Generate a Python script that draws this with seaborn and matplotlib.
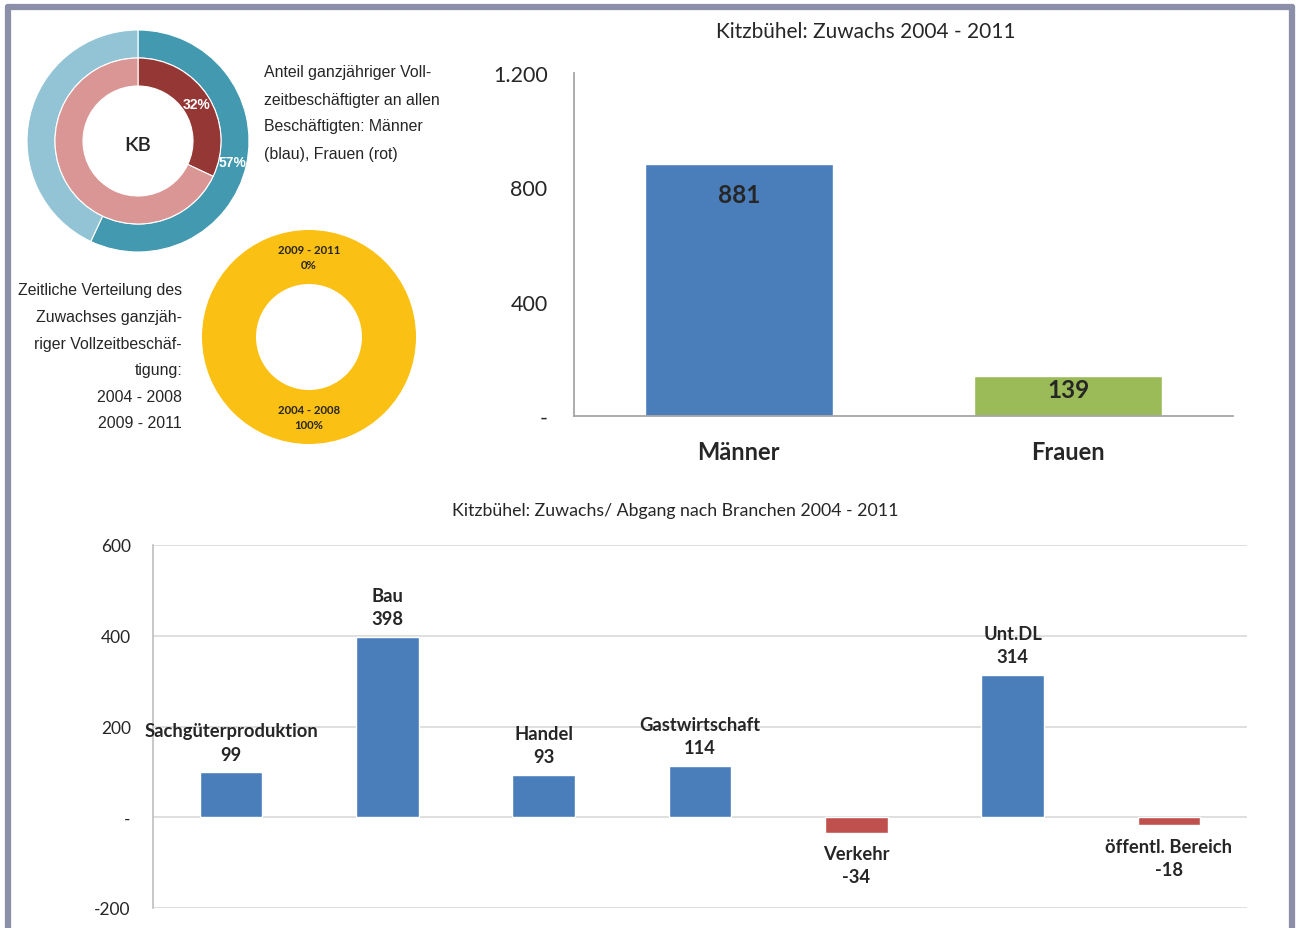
import numpy as np
import pandas as pd
import matplotlib
matplotlib.use("Agg")
import matplotlib.pyplot as plt
import seaborn as sns
from matplotlib.lines import Line2D

# ---------------- data ----------------
gender_labels = ["Männer", "Frauen"]
gender_growth = [881, 139]

branch_labels = ["Sachgüterproduktion", "Bau", "Handel", "Gastwirtschaft",
                 "Verkehr", "Unt.DL", "öffentl. Bereich"]
branch_values = [99, 398, 93, 114, -34, 314, -18]

share_men = [57, 43]      # outer ring (blue)
share_women = [32, 68]    # inner ring (red)
period_labels = ["2004 - 2008", "2009 - 2011"]
period_share = [100, 0]

top_title = "Kitzbühel: Zuwachs 2004 - 2011"
bottom_title = "Kitzbühel: Zuwachs/ Abgang nach Branchen 2004 - 2011"
text_share = ["Anteil ganzjähriger Voll-", "zeitbeschäftigter an allen",
              "Beschäftigten: Männer", "(blau), Frauen (rot)"]
text_period = ["Zeitliche Verteilung des", "Zuwachses ganzjäh-",
               "riger Vollzeitbeschäf-", "tigung:", "2004 - 2008", "2009 - 2011"]

# ---------------- style ----------------
sns.set_theme(style="white")
plt.rcParams["font.family"] = ["Lato", "DejaVu Sans"]

W, H = 1296, 929
fig = plt.figure(figsize=(W / 100, H / 100), dpi=100)
fig.patch.set_facecolor("white")

def px_axes(x0, y0, x1, y1):
    return fig.add_axes([x0 / W, 1 - y1 / H, (x1 - x0) / W, (y1 - y0) / H])

# frame
frame_col = "#8B8FA7"
fig.add_artist(Line2D([8 / W, 8 / W], [0, 1 - 8 / H], color=frame_col, lw=4.5, transform=fig.transFigure))
fig.add_artist(Line2D([8 / W, 1292 / W], [1 - 8 / H, 1 - 8 / H], color=frame_col, lw=4.5, transform=fig.transFigure))
fig.add_artist(Line2D([1292 / W, 1292 / W], [0, 1 - 8 / H], color=frame_col, lw=4.5, transform=fig.transFigure))

txt_dark = "#262626"

# ---------------- nested donut ----------------
cx, cy, R = 138, 142, 111
axd = px_axes(cx - R, cy - R, cx + R, cy + R)
ring = 28 / R
w_out, _ = axd.pie(share_men, radius=1.0, startangle=90, counterclock=False,
                   colors=["#4299B0", "#93C4D5"],
                   wedgeprops=dict(width=ring, edgecolor="white", linewidth=0.8))
r_in = 83 / R
w_in, _ = axd.pie(share_women, radius=r_in, startangle=90, counterclock=False,
                  colors=["#953735", "#D99694"],
                  wedgeprops=dict(width=ring, edgecolor="white", linewidth=0.8))
axd.set_xlim(-1, 1); axd.set_ylim(-1, 1); axd.set_aspect("equal"); axd.axis("off")
for wedge, r, v in [(w_in[0], r_in - ring / 2, share_women[0]), (w_out[0], 1 - ring / 2, share_men[0])]:
    a = np.deg2rad((wedge.theta1 + wedge.theta2) / 2)
    axd.text(r * np.cos(a), r * np.sin(a), f"{v}%", color="white", fontsize=10,
             fontweight="bold", ha="center", va="center", family=["Liberation Sans"])
axd.text(0, -0.03, "KB", fontsize=14.5, fontweight="semibold", ha="center", va="center", color=txt_dark)

# ---------------- period donut ----------------
cx2, cy2, R2 = 309, 338, 107
axp = px_axes(cx2 - R2, cy2 - R2, cx2 + R2, cy2 + R2)
wp, _ = axp.pie(period_share, radius=1.0, startangle=90, counterclock=False,
                colors=["#FBC014", "#F79646"],
                wedgeprops=dict(width=54 / R2, edgecolor="none"))
axp.set_xlim(-1, 1); axp.set_ylim(-1, 1); axp.set_aspect("equal"); axp.axis("off")
rm = 1 - (54 / R2) / 2
for wedge, lab, v in zip(wp, period_labels, period_share):
    a = np.deg2rad((wedge.theta1 + wedge.theta2) / 2)
    axp.text(rm * np.cos(a), rm * np.sin(a), f"{lab}\n{v}%", fontsize=8.2,
             fontweight="bold", ha="center", va="center", color=txt_dark,
             linespacing=1.55)

# ---------------- descriptive texts ----------------
for i, line in enumerate(text_share):
    fig.text(264 / W, 1 - (73 + i * 27) / H, line, ha="left", va="center",
             fontsize=11.4, color=txt_dark, family=["Liberation Sans"])
for i, line in enumerate(text_period):
    fig.text(182 / W, 1 - (291 + i * 26.6) / H, line, ha="right", va="center",
             fontsize=11.4, color=txt_dark, family=["Liberation Sans"])

# ---------------- top bar chart ----------------
axt = px_axes(574, 74, 1233, 417)
df_g = pd.DataFrame({"g": gender_labels, "v": gender_growth})
sns.barplot(data=df_g, x="g", y="v", hue="g", palette=["#4A7EBB", "#9BBB59"],
            width=0.57, legend=False, ax=axt, saturation=1)
axt.set_ylim(0, 1200)
axt.set_yticks([0, 400, 800, 1200])
axt.set_yticklabels(["-", "400", "800", "1.200"], fontsize=15.5, color=txt_dark)
axt.tick_params(axis="y", length=0, pad=19)
axt.tick_params(axis="x", length=0, pad=17.5)
axt.set_xticks(range(len(gender_labels)))
axt.set_xticklabels(gender_labels, fontsize=17, fontweight="bold", color=txt_dark)
axt.set_xlabel(""); axt.set_ylabel("")
for s in ["top", "right"]:
    axt.spines[s].set_visible(False)
for s in ["left", "bottom"]:
    axt.spines[s].set_color("#A6A6A6"); axt.spines[s].set_linewidth(1.3)
for i, v in enumerate(gender_growth):
    axt.text(i, max(v - 105, v * 0.66), f"{v}", ha="center", va="center",
             fontsize=17.5, fontweight="bold", color=txt_dark)
fig.text(866 / W, 1 - 32 / H, top_title, ha="center", va="center", fontsize=15, color=txt_dark)

# ---------------- bottom bar chart ----------------
axb = px_axes(153, 546, 1247, 909)
df_b = pd.DataFrame({"b": branch_labels, "v": branch_values})
pal = ["#4A7EBB" if v >= 0 else "#C0504D" for v in branch_values]
sns.barplot(data=df_b, x="b", y="v", hue="b", palette=pal, width=0.4,
            legend=False, ax=axb, saturation=1)
axb.set_ylim(-200, 600)
axb.set_yticks([-200, 0, 200, 400, 600])
axb.set_yticklabels(["-200", "-", "200", "400", "600"], fontsize=12.5, color=txt_dark)
axb.tick_params(axis="y", length=0, pad=16)
axb.set_xticks([])
axb.set_xlabel(""); axb.set_ylabel("")
axb.grid(axis="y", color="#D9D9D9", linewidth=1.2)
axb.set_axisbelow(True)
for s in ["top", "right", "bottom"]:
    axb.spines[s].set_visible(False)
axb.spines["left"].set_color("#BFBFBF"); axb.spines["left"].set_linewidth(1.2)
for i, (lab, v) in enumerate(zip(branch_labels, branch_values)):
    if v >= 0:
        axb.annotate(f"{lab}\n{v}", (i, v), xytext=(0, 7), textcoords="offset points",
                     ha="center", va="bottom", fontsize=13.2, fontweight="bold",
                     color=txt_dark, linespacing=1.45)
    else:
        axb.annotate(f"{lab}\n{v}", (i, v), xytext=(0, -9), textcoords="offset points",
                     ha="center", va="top", fontsize=13.2, fontweight="bold",
                     color=txt_dark, linespacing=1.45)
fig.text(675 / W, 1 - 511 / H, bottom_title, ha="center", va="center", fontsize=12.8, color=txt_dark)

fig.savefig("out.png", dpi=100)
